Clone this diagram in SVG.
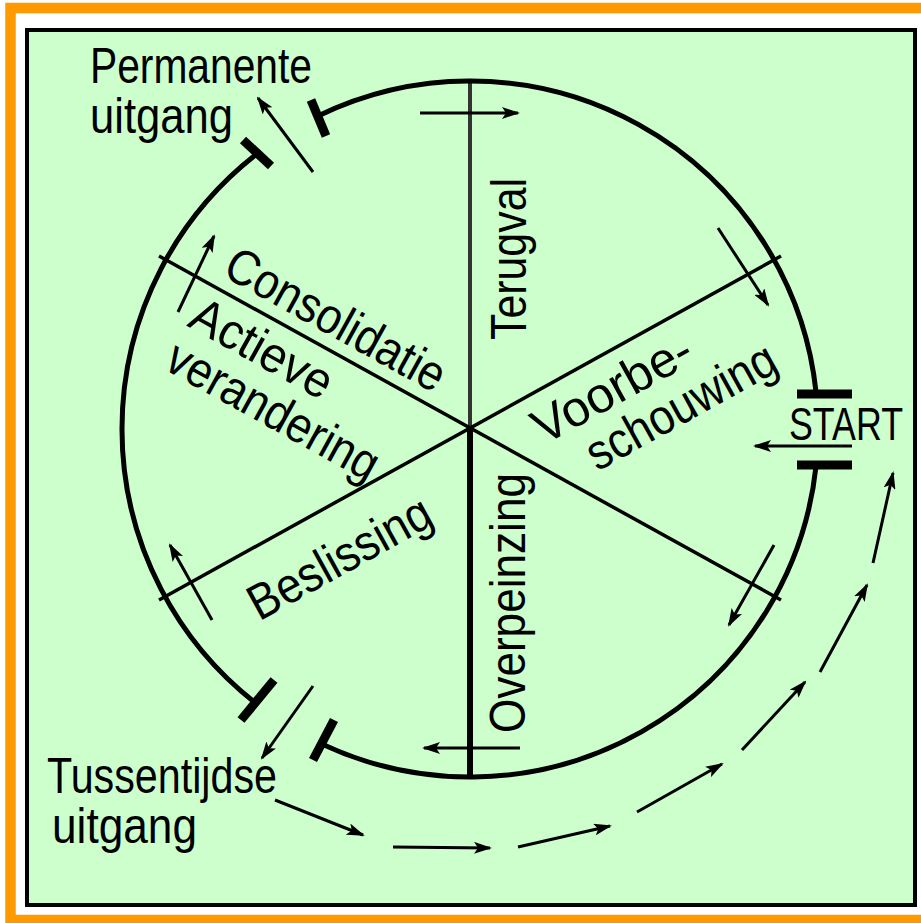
<svg xmlns="http://www.w3.org/2000/svg" width="921" height="923" viewBox="0 0 921 923">
<defs>
<marker id="ah" markerUnits="userSpaceOnUse" markerWidth="18" markerHeight="12" refX="16" refY="6" orient="auto"><path d="M0,0 L18,6 L0,12 L4,6 z" fill="#000"/></marker>
<style>
.lbl{font-family:"Liberation Sans",Arial,sans-serif;font-size:50px;fill:#000}
.arr{stroke:#000;stroke-width:3;fill:none;marker-end:url(#ah)}
.ring{stroke:#000;stroke-width:5;fill:none}
.bar{stroke:#000;stroke-width:9;stroke-linecap:butt}
.spoke{stroke:#000;stroke-width:3.5}
</style>
</defs>
<rect width="921" height="923" fill="#fff"/>
<rect x="10.5" y="8" width="950" height="912" fill="none" stroke="#FF9900" stroke-width="10.5"/>
<rect x="27" y="30" width="888" height="875" fill="#CCFFCC" stroke="#000" stroke-width="4"/>

<g id="wheel">
<line x1="470" y1="83" x2="470" y2="428" stroke="#333" stroke-width="4"/>
<line x1="470" y1="428" x2="470" y2="777" stroke="#000" stroke-width="6"/>
<line class="spoke" x1="159" y1="256" x2="781" y2="600"/>
<line class="spoke" x1="159" y1="600" x2="781" y2="256"/>
<path class="ring" d="M816.1,392.6 A348,348 0 0 0 317.4,116.2"/>
<path class="ring" d="M255.7,154.8 A348,348 0 0 0 255.7,703.2"/>
<path class="ring" d="M322.9,744.4 A348,348 0 0 0 816.1,465.4"/>
<line class="bar" x1="243" y1="140" x2="271" y2="166"/>
<line class="bar" x1="311" y1="100" x2="326" y2="136"/>
<line class="bar" x1="274" y1="680" x2="241" y2="720"/>
<line class="bar" x1="334" y1="720" x2="313" y2="760"/>
<line class="bar" x1="797" y1="394" x2="852" y2="394" stroke-width="12"/>
<line class="bar" x1="797" y1="465" x2="852" y2="465" stroke-width="12"/>
</g>

<g id="connectors">
<line class="arr" x1="313" y1="172" x2="258" y2="98"/>
<line class="arr" x1="420" y1="113" x2="518" y2="113"/>
<line class="arr" x1="718" y1="228" x2="768" y2="305"/>
<line class="arr" x1="852" y1="446" x2="755" y2="446"/>
<line class="arr" x1="774" y1="545" x2="729" y2="625"/>
<line class="arr" x1="520" y1="748" x2="424" y2="748"/>
<line class="arr" x1="313" y1="686" x2="262" y2="758"/>
<line class="arr" x1="212" y1="620" x2="170" y2="545"/>
<line class="arr" x1="178" y1="312" x2="214" y2="236"/>
<line class="arr" x1="275" y1="800" x2="363" y2="835"/>
<line class="arr" x1="393" y1="847" x2="490" y2="848"/>
<line class="arr" x1="518" y1="847" x2="610" y2="826"/>
<line class="arr" x1="637" y1="812" x2="722" y2="764"/>
<line class="arr" x1="742" y1="750" x2="805" y2="682"/>
<line class="arr" x1="820" y1="672" x2="867" y2="585"/>
<line class="arr" x1="873" y1="563" x2="893" y2="473"/>
</g>

<g id="permanente-uitgang">
<text class="lbl" x="90" y="83" textLength="222" lengthAdjust="spacingAndGlyphs">Permanente</text>
<text class="lbl" x="90" y="133" textLength="143" lengthAdjust="spacingAndGlyphs">uitgang</text>
</g>
<g id="tussentijdse-uitgang">
<text class="lbl" x="47" y="793" textLength="230" lengthAdjust="spacingAndGlyphs">Tussentijdse</text>
<text class="lbl" x="52" y="843" textLength="145" lengthAdjust="spacingAndGlyphs">uitgang</text>
</g>
<g id="start">
<text class="lbl" x="789" y="440" textLength="114" lengthAdjust="spacingAndGlyphs" style="font-size:47px">START</text>
</g>
<g id="terugval">
<text class="lbl" transform="translate(526,340) rotate(-90)" x="0" y="0" textLength="162" lengthAdjust="spacingAndGlyphs">Terugval</text>
</g>
<g id="overpeinzing">
<text class="lbl" transform="translate(525,733) rotate(-90)" x="0" y="0" textLength="260" lengthAdjust="spacingAndGlyphs">Overpeinzing</text>
</g>
<g id="consolidatie">
<text class="lbl" transform="translate(470,428) rotate(29)" x="-292" y="-13" textLength="244" lengthAdjust="spacingAndGlyphs">Consolidatie</text>
</g>
<g id="actieve-verandering">
<text class="lbl" transform="translate(470,428) rotate(29)" x="-298" y="48" textLength="155" lengthAdjust="spacingAndGlyphs">Actieve</text>
<text class="lbl" transform="translate(470,428) rotate(29)" x="-298" y="97" textLength="235" lengthAdjust="spacingAndGlyphs">verandering</text>
</g>
<g id="beslissing">
<text class="lbl" transform="translate(470,428) rotate(-29)" x="-278" y="67" textLength="202" lengthAdjust="spacingAndGlyphs">Beslissing</text>
</g>
<g id="voorbeschouwing">
<text class="lbl" transform="translate(470,428) rotate(-29)" x="56" y="51" textLength="175" lengthAdjust="spacingAndGlyphs">Voorbe-</text>
<text class="lbl" transform="translate(470,428) rotate(-29)" x="90" y="100" textLength="210" lengthAdjust="spacingAndGlyphs">schouwing</text>
</g>
</svg>
